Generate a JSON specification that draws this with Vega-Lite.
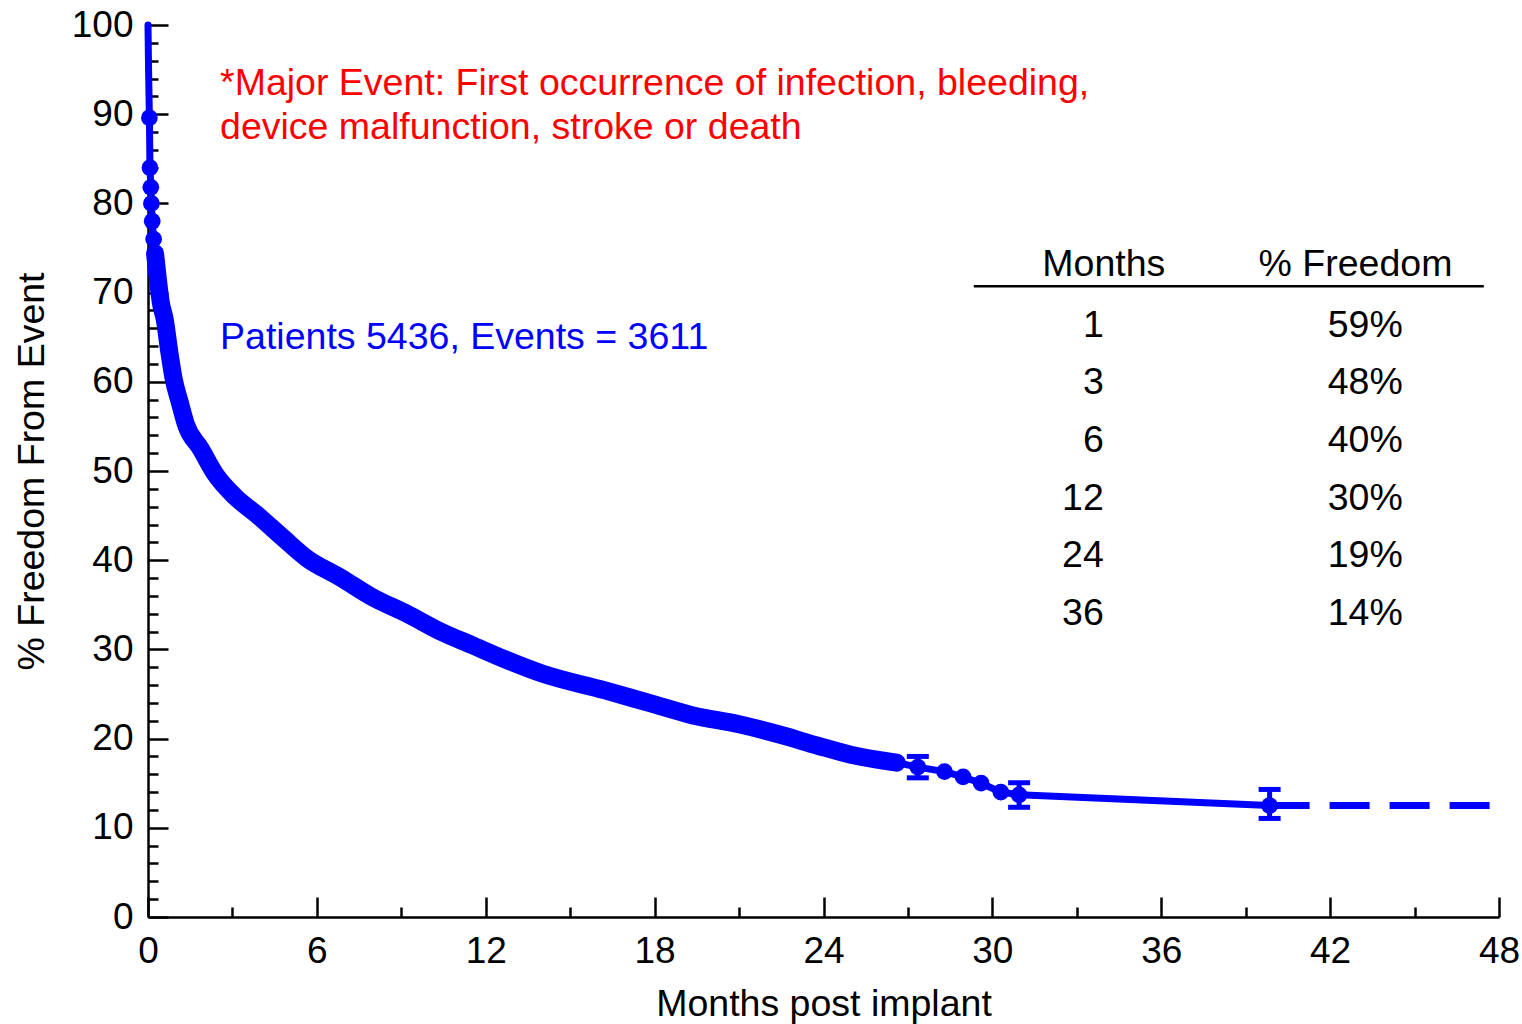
{
  "$schema": "https://vega.github.io/schema/vega-lite/v6.json",
  "autosize": {"type": "none"},
  "width": 1351,
  "height": 892,
  "padding": {"left": 148, "top": 25, "right": 23, "bottom": 107},
  "background": "white",
  "config": {
    "font": "Liberation Sans",
    "view": {"stroke": null},
    "axis": {
      "grid": false,
      "domainColor": "black",
      "domainWidth": 2.5,
      "tickColor": "black",
      "tickWidth": 2.5,
      "labelColor": "black",
      "labelFont": "Liberation Sans",
      "labelFontSize": 37,
      "titleFont": "Liberation Sans",
      "titleFontSize": 37.5,
      "titleFontWeight": "normal",
      "titleColor": "black",
      "labelFlush": false,
      "labelOverlap": false
    }
  },
  "datasets": {
    "curve": [
      {"m": 0, "v": 100}, {"m": 0.02, "v": 95}, {"m": 0.05, "v": 89.6}, {"m": 0.07, "v": 84.0},
      {"m": 0.1, "v": 81.8}, {"m": 0.12, "v": 80.0}, {"m": 0.15, "v": 78.0}, {"m": 0.2, "v": 76.0},
      {"m": 0.25, "v": 74.4}, {"m": 0.35, "v": 71.5}, {"m": 0.45, "v": 69.0}, {"m": 0.6, "v": 66.9},
      {"m": 0.75, "v": 63.5}, {"m": 0.92, "v": 60.2}, {"m": 1.12, "v": 57.8}, {"m": 1.35, "v": 55.2},
      {"m": 1.87, "v": 52.5}, {"m": 2.4, "v": 49.6}, {"m": 3.1, "v": 47.1}, {"m": 3.87, "v": 45.1},
      {"m": 4.8, "v": 42.5}, {"m": 5.65, "v": 40.2}, {"m": 6.82, "v": 38.1}, {"m": 8.0, "v": 35.8},
      {"m": 9.2, "v": 34.0}, {"m": 10.4, "v": 32.0}, {"m": 11.5, "v": 30.5}, {"m": 12.6, "v": 29.0},
      {"m": 14.0, "v": 27.3}, {"m": 16.24, "v": 25.4}, {"m": 17.8, "v": 24.0}, {"m": 19.36, "v": 22.6},
      {"m": 21.0, "v": 21.6}, {"m": 22.5, "v": 20.4}, {"m": 23.8, "v": 19.2}, {"m": 24.97, "v": 18.2},
      {"m": 26.0, "v": 17.6}, {"m": 26.6, "v": 17.3}, {"m": 27.35, "v": 16.8}, {"m": 28.3, "v": 16.3},
      {"m": 28.96, "v": 15.7}, {"m": 29.6, "v": 15.0}, {"m": 30.3, "v": 14.0}, {"m": 30.95, "v": 13.7},
      {"m": 39.85, "v": 12.5}
    ],
    "tail": [{"m": 39.85, "v": 12.5}, {"m": 47.7, "v": 12.5}],
    "err": [
      {"m": 27.35, "lo": 15.6, "hi": 18.0},
      {"m": 30.95, "lo": 12.3, "hi": 15.05},
      {"m": 39.85, "lo": 11.05, "hi": 14.3}
    ],
    "red": [
      {"m": 2.56, "v": 93.4, "t": "*Major Event: First occurrence of infection, bleeding,"},
      {"m": 2.56, "v": 88.4, "t": "device malfunction, stroke or death"}
    ],
    "blue": [{"m": 2.56, "v": 64.9, "t": "Patients 5436, Events = 3611"}],
    "head": [
      {"m": 33.96, "v": 73.1, "t": "Months"},
      {"m": 42.9, "v": 73.1, "t": "% Freedom"}
    ],
    "hrule": [{"m": 29.34, "m2": 47.46, "v": 70.7}],
    "rows": [
      {"mo": "1", "pct": "59%", "v": 66.3},
      {"mo": "3", "pct": "48%", "v": 59.9},
      {"mo": "6", "pct": "40%", "v": 53.4},
      {"mo": "12", "pct": "30%", "v": 46.9},
      {"mo": "24", "pct": "19%", "v": 40.5},
      {"mo": "36", "pct": "14%", "v": 34.0}
    ]
  },
  "layer": [
    {
      "data": {"name": "curve"},
      "mark": {"type": "line", "color": "#0000ff", "strokeWidth": 7, "strokeJoin": "round", "strokeCap": "round"},
      "encoding": {
        "x": {
          "field": "m", "type": "quantitative",
          "scale": {"domain": [0, 48], "nice": false, "zero": false},
          "axis": {
            "title": "Months post implant",
            "values": [0, 3, 6, 9, 12, 15, 18, 21, 24, 27, 30, 33, 36, 39, 42, 45, 48],
            "tickCount": 40,
            "labelExpr": "datum.value % 6 === 0 ? datum.label : ''",
            "tickSize": {"condition": {"test": "datum.value % 6 === 0", "value": -20}, "value": -10},
            "labelOverlap": false,
            "labelPadding": 36,
            "titlePadding": 6
          }
        },
        "y": {
          "field": "v", "type": "quantitative",
          "scale": {"domain": [0, 100], "nice": false},
          "axis": {
            "title": "% Freedom From Event",
            "values": [0, 2, 4, 6, 8, 10, 12, 14, 16, 18, 20, 22, 24, 26, 28, 30, 32, 34, 36, 38, 40, 42, 44, 46, 48, 50, 52, 54, 56, 58, 60, 62, 64, 66, 68, 70, 72, 74, 76, 78, 80, 82, 84, 86, 88, 90, 92, 94, 96, 98, 100],
            "tickCount": 100,
            "labelExpr": "datum.value % 10 === 0 ? datum.label : ''",
            "tickSize": {"condition": {"test": "datum.value % 10 === 0", "value": -20}, "value": -10},
            "labelOverlap": false,
            "labelPadding": 35,
            "titlePadding": 20
          }
        }
      }
    },
    {
      "data": {"name": "curve"},
      "transform": [{"filter": "datum.m >= 0.25 && datum.m <= 26.6"}],
      "mark": {"type": "line", "color": "#0000ff", "strokeWidth": 18, "strokeJoin": "round", "strokeCap": "round", "interpolate": "monotone"},
      "encoding": {"x": {"field": "m", "type": "quantitative"}, "y": {"field": "v", "type": "quantitative"}}
    },
    {
      "data": {"name": "curve"},
      "transform": [{"filter": "(datum.m > 0.03 && datum.m < 0.25) || datum.m >= 26.6"}],
      "mark": {"type": "point", "shape": "circle", "filled": true, "color": "#0000ff", "opacity": 1, "size": 280},
      "encoding": {"x": {"field": "m", "type": "quantitative"}, "y": {"field": "v", "type": "quantitative"}}
    },
    {
      "data": {"name": "tail"},
      "mark": {"type": "line", "color": "#0000ff", "strokeWidth": 7, "strokeDash": [40, 20]},
      "encoding": {"x": {"field": "m", "type": "quantitative"}, "y": {"field": "v", "type": "quantitative"}}
    },
    {
      "data": {"name": "err"},
      "mark": {"type": "rule", "color": "#0000ff", "strokeWidth": 5},
      "encoding": {"x": {"field": "m", "type": "quantitative"}, "y": {"field": "lo", "type": "quantitative"}, "y2": {"field": "hi"}}
    },
    {
      "data": {"name": "err"},
      "mark": {"type": "tick", "orient": "horizontal", "color": "#0000ff", "size": 22, "thickness": 5, "opacity": 1},
      "encoding": {"x": {"field": "m", "type": "quantitative"}, "y": {"field": "lo", "type": "quantitative"}}
    },
    {
      "data": {"name": "err"},
      "mark": {"type": "tick", "orient": "horizontal", "color": "#0000ff", "size": 22, "thickness": 5, "opacity": 1},
      "encoding": {"x": {"field": "m", "type": "quantitative"}, "y": {"field": "hi", "type": "quantitative"}}
    },
    {
      "data": {"name": "red"},
      "mark": {"type": "text", "color": "#ff0000", "fontSize": 37.5, "align": "left", "baseline": "middle"},
      "encoding": {"x": {"field": "m", "type": "quantitative"}, "y": {"field": "v", "type": "quantitative"}, "text": {"field": "t"}}
    },
    {
      "data": {"name": "blue"},
      "mark": {"type": "text", "color": "#0000ff", "fontSize": 37.5, "align": "left", "baseline": "middle"},
      "encoding": {"x": {"field": "m", "type": "quantitative"}, "y": {"field": "v", "type": "quantitative"}, "text": {"field": "t"}}
    },
    {
      "data": {"name": "head"},
      "mark": {"type": "text", "color": "black", "fontSize": 37.5, "align": "center", "baseline": "middle"},
      "encoding": {"x": {"field": "m", "type": "quantitative"}, "y": {"field": "v", "type": "quantitative"}, "text": {"field": "t"}}
    },
    {
      "data": {"name": "hrule"},
      "mark": {"type": "rule", "color": "black", "strokeWidth": 2.5},
      "encoding": {"x": {"field": "m", "type": "quantitative"}, "x2": {"field": "m2"}, "y": {"field": "v", "type": "quantitative"}}
    },
    {
      "data": {"name": "rows"},
      "mark": {"type": "text", "color": "black", "fontSize": 37.5, "align": "right", "baseline": "middle"},
      "encoding": {"x": {"datum": 33.96, "type": "quantitative"}, "y": {"field": "v", "type": "quantitative"}, "text": {"field": "mo"}}
    },
    {
      "data": {"name": "rows"},
      "mark": {"type": "text", "color": "black", "fontSize": 37.5, "align": "right", "baseline": "middle"},
      "encoding": {"x": {"datum": 44.58, "type": "quantitative"}, "y": {"field": "v", "type": "quantitative"}, "text": {"field": "pct"}}
    }
  ]
}
